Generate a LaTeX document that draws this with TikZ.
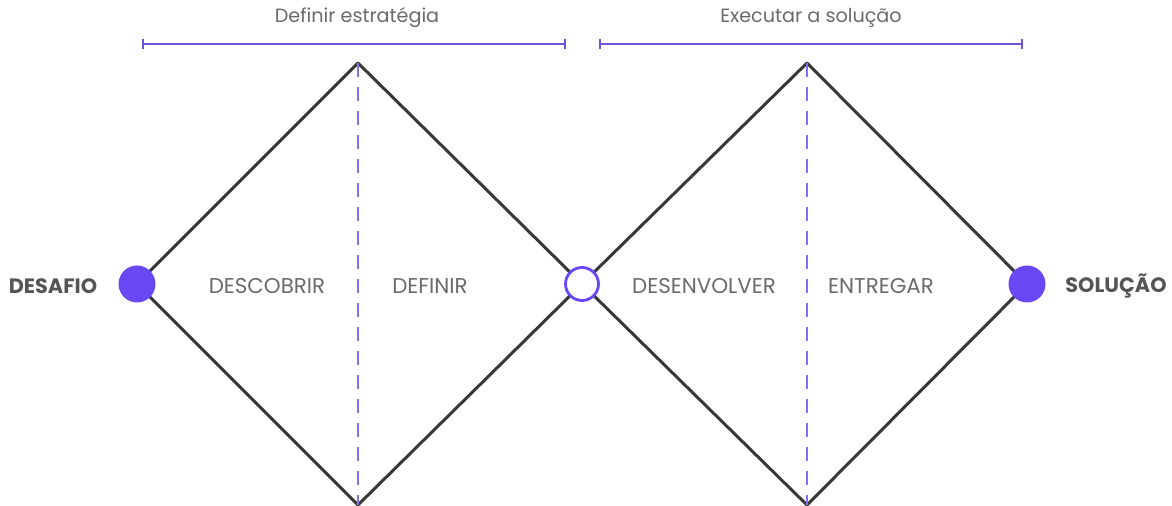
\documentclass[tikz,border=0pt]{standalone}
\usepackage{fontspec}
\setmainfont{Poppins}
\definecolor{roxo}{HTML}{6847F5}
\definecolor{cinza}{HTML}{6A6A6A}
\definecolor{traco}{HTML}{383838}
\tikzset{
  aresta/.style={line width=1.5pt, traco, line join=round},
  eixo/.style={line width=1pt, roxo!80, dashed, dash pattern=on 7pt off 5pt},
  faixa/.style={line width=1pt, roxo!75!gray},
  fase/.style={text=cinza, font=\fontsize{10.7}{12}\selectfont},
  titulo/.style={text=cinza, font=\fontsize{9.6}{12}\selectfont},
  ponta/.style={text=cinza!80!black, font=\fontsize{10.4}{12}\selectfont\bfseries},
  bola/.style={circle, fill=roxo, minimum size=18.5pt, inner sep=0pt},
  aro/.style={circle, draw=roxo, line width=1.4pt, fill=white, minimum size=16.5pt, inner sep=0pt}
}
\begin{document}
\begin{tikzpicture}[x=0.5pt, y=-0.5pt]
\useasboundingbox (0,0) rectangle (1172,506);

% vertices of the two diamonds
\coordinate (topo1) at (358,63);
\coordinate (base1) at (358,505);
\coordinate (topo2) at (807,63);
\coordinate (base2) at (807,505);
\coordinate (ini) at (137,284);
\coordinate (meio) at (582,284);
\coordinate (fim) at (1027,284);

\draw[aresta] (ini) -- (topo1) -- (meio) -- (base1) -- cycle;
\draw[aresta] (meio) -- (topo2) -- (fim) -- (base2) -- cycle;
\draw[eixo] (topo1) -- (base1);
\draw[eixo] (topo2) -- (base2);

\node[bola] (desafio) at (ini) {};
\node[aro] (centro) at (meio) {};
\node[bola] (solucao) at (fim) {};

% brackets on top
\coordinate (e1) at (143,44);
\coordinate (d1) at (565,44);
\coordinate (e2) at (600,44);
\coordinate (d2) at (1022,44);
\draw[faixa] (e1) -- (d1);
\draw[faixa] (e2) -- (d2);
\foreach \p in {e1,d1,e2,d2} {
    \draw[faixa] ([yshift=-2.5pt]\p) -- ([yshift=2.5pt]\p);
}
\node[titulo] (estrategia) at (357,18) {Definir estratégia};
\node[titulo] (execucao) at (811,18) {Executar a solução};

\node[ponta] (tdesafio) at (53,286) {DESAFIO};
\node[ponta] (tsolucao) at (1116,286) {SOLUÇÃO};

\node[fase] (descobrir) at (267,286) {DESCOBRIR};
\node[fase] (definir) at (430,286) {DEFINIR};
\node[fase] (desenvolver) at (704,286) {DESENVOLVER};
\node[fase] (entregar) at (881,286) {ENTREGAR};
\end{tikzpicture}
\end{document}
